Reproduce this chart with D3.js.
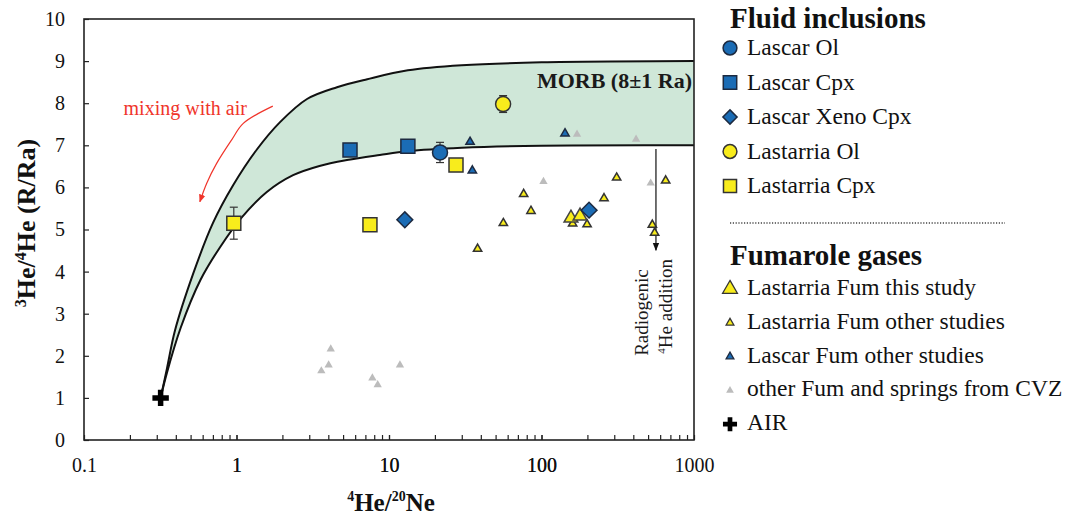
<!DOCTYPE html>
<html>
<head>
<meta charset="utf-8">
<script src="https://cdn.jsdelivr.net/npm/d3@7"></script>
<style>
  body { margin: 0; background: #fff; }
  svg { display: block; font-family: "Liberation Serif", "Times New Roman", serif; }
</style>
</head>
<body>
<svg id="chart" width="1073" height="515"></svg>
<script>
// ---- data ----
const lascarOl = [{ x: 21.6, y: 6.83, err: 0.24 }];
const lascarCpx = [{ x: 5.55, y: 6.89 }, { x: 13.3, y: 6.98 }];
const lascarXenoCpx = [{ x: 12.7, y: 5.23 }, { x: 205, y: 5.46 }];
const lastarriaOl = [{ x: 56, y: 7.98, err: 0.2 }];
const lastarriaCpx = [{ x: 0.96, y: 5.15, err: 0.38 }, { x: 7.5, y: 5.11 }, { x: 27.5, y: 6.53 }];

const lastarriaFumThis = [{ x: 156, y: 5.27 }, { x: 179, y: 5.32 }];
const lastarriaFumOther = [
  { x: 311, y: 6.23 }, { x: 652, y: 6.16 }, { x: 257, y: 5.74 }, { x: 76.4, y: 5.84 },
  { x: 85.3, y: 5.44 }, { x: 56.2, y: 5.15 }, { x: 38.1, y: 4.54 }, { x: 160, y: 5.14 },
  { x: 199, y: 5.12 }, { x: 533, y: 5.11 }, { x: 552, y: 4.92 }
];
const lascarFumOther = [{ x: 34, y: 7.08 }, { x: 35.2, y: 6.4 }, { x: 142.6, y: 7.28 }];
const otherFumCVZ = [
  { x: 171, y: 7.26 }, { x: 417, y: 7.14 }, { x: 103, y: 6.14 }, { x: 520, y: 6.1 },
  { x: 4.15, y: 2.16 }, { x: 4.02, y: 1.78 }, { x: 3.6, y: 1.64 }, { x: 7.78, y: 1.47 },
  { x: 8.43, y: 1.31 }, { x: 11.8, y: 1.78 }
];
const air = [{ x: 0.318, y: 1 }];

// MORB band edges (air - mantle mixing curves for 9 and 7 Ra)
const morbUpper = [
  [0.318, 1.0], [0.35, 1.7], [0.395, 2.6], [0.52, 3.95], [0.7, 5.15], [0.95, 6.05],
  [1.36, 6.9], [1.93, 7.55], [2.9, 8.1], [4.56, 8.38], [7.2, 8.57], [13.3, 8.78],
  [30, 8.9], [100, 8.97], [1000, 9.0]
];
const morbLower = [
  [0.318, 1.0], [0.35, 1.6], [0.43, 2.66], [0.58, 3.8], [0.78, 4.58], [1.09, 5.3],
  [1.58, 5.89], [2.35, 6.29], [3.5, 6.51], [5.3, 6.65], [8.7, 6.77], [13.3, 6.86],
  [30, 6.94], [100, 6.99], [1000, 7.0]
];

const mixArrow = [[1.73, 7.93], [1.108, 7.52], [0.93, 7.13], [0.741, 6.57], [0.638, 6.1], [0.575, 5.66]];
const radioArrow = [[563, 6.91], [563, 4.51]];

const xTickLabels = ["0.1", "1", "10", "100", "1000"];
const yTicks = [0, 1, 2, 3, 4, 5, 6, 7, 8, 9, 10];

const fluidLegend = ["Lascar Ol", "Lascar Cpx", "Lascar Xeno Cpx", "Lastarria Ol", "Lastarria Cpx"];
const fumLegend = ["Lastarria Fum this study", "Lastarria Fum other studies", "Lascar Fum other studies",
  "other Fum and springs from CVZ", "AIR"];

// ---- setup ----
const svg = d3.select("#chart");
const margin = { top: 19, left: 84 };
const plotW = 610, plotH = 421;

const BLUE = "#1b6cb5", YELLOW = "#f8ec1c", GRAY = "#bcbcbc", EDGE = "#1d2a40";

const x = d3.scaleLog().domain([0.1, 1000]).range([margin.left, margin.left + plotW]);
const y = d3.scaleLinear().domain([0, 10]).range([margin.top + plotH, margin.top]);

const defs = svg.append("defs");
function arrowMarker(id, color) {
  defs.append("marker")
    .attr("id", id)
    .attr("viewBox", "0 -5 10 10")
    .attr("refX", 9).attr("refY", 0)
    .attr("markerWidth", 8).attr("markerHeight", 8)
    .attr("markerUnits", "userSpaceOnUse")
    .attr("orient", "auto")
    .append("path")
    .attr("d", "M0,-4L10,0L0,4Z")
    .attr("fill", color);
}
arrowMarker("arrRed", "#f0352b");
arrowMarker("arrBlack", "#111");

// ---- MORB band ----
const line = d3.line()
  .x((d) => x(d[0]))
  .y((d) => y(d[1]))
  .curve(d3.curveCatmullRom.alpha(0.5));

const bandPath = line(morbUpper) + "L" + line(morbLower.slice().reverse()).slice(1) + "Z";
svg.append("path").attr("d", bandPath).attr("fill", "#cfe7d8").attr("stroke", "none");

svg.selectAll("path.curve")
  .data([morbUpper, morbLower])
  .join("path")
  .attr("class", "curve")
  .attr("d", line)
  .attr("fill", "none")
  .attr("stroke", "#111")
  .attr("stroke-width", 2);

// ---- axes ----
const xMinor = [];
[0.1, 1, 10, 100].forEach((dec) => {
  for (let k = 1; k <= 10; k++) xMinor.push(dec * k);
});

const xAxis = d3.axisBottom(x)
  .tickValues(xMinor)
  .tickSize(-5)
  .tickPadding(18)
  .tickFormat((d) => {
    const i = [0.1, 1, 10, 100, 1000].findIndex((v) => Math.abs(v - d) < 1e-9);
    return i >= 0 ? xTickLabels[i] : "";
  });

const gx = svg.append("g")
  .attr("transform", `translate(0,${margin.top + plotH})`)
  .call(xAxis);

const yAxis = d3.axisLeft(y)
  .tickValues(yTicks)
  .tickSize(-5)
  .tickPadding(19)
  .tickFormat(d3.format("d"));

const gy = svg.append("g")
  .attr("transform", `translate(${margin.left},0)`)
  .call(yAxis);

[gx, gy].forEach((g) => {
  g.select(".domain").remove();
  g.selectAll(".tick line").attr("stroke", "#222").attr("stroke-width", 1.2);
  g.selectAll(".tick text")
    .attr("fill", "#111")
    .attr("font-size", 20)
    .attr("font-family", "Liberation Serif, serif");
});

svg.append("rect")
  .attr("x", margin.left).attr("y", margin.top)
  .attr("width", plotW).attr("height", plotH)
  .attr("fill", "none")
  .attr("stroke", "#222")
  .attr("stroke-width", 1.6);

// axis titles
const xTitle = svg.append("text")
  .attr("x", x(10) + 2)
  .attr("y", 511)
  .attr("text-anchor", "middle")
  .attr("font-weight", "bold")
  .attr("font-size", 25)
  .attr("fill", "#111");
xTitle.append("tspan").attr("font-size", 14).attr("dy", -10).text("4");
xTitle.append("tspan").attr("dy", 10).text("He/");
xTitle.append("tspan").attr("font-size", 14).attr("dy", -10).text("20");
xTitle.append("tspan").attr("dy", 10).text("Ne");

const yTitle = svg.append("text")
  .attr("transform", `translate(35,${margin.top + 204}) rotate(-90)`)
  .attr("text-anchor", "middle")
  .attr("font-weight", "bold")
  .attr("font-size", 26)
  .attr("fill", "#111");
yTitle.append("tspan").attr("font-size", 16).attr("dy", -9).text("3");
yTitle.append("tspan").attr("dy", 9).text("He/");
yTitle.append("tspan").attr("font-size", 16).attr("dy", -9).text("4");
yTitle.append("tspan").attr("dy", 9).text("He (R/Ra)");

// ---- annotations ----
svg.append("text")
  .attr("x", x(970)).attr("y", y(8.36))
  .attr("text-anchor", "end")
  .attr("font-weight", "bold")
  .attr("font-size", 22)
  .attr("fill", "#1a1a1a")
  .text("MORB (8\u00B11 Ra)");

svg.append("text")
  .attr("x", x(1.17)).attr("y", y(7.72))
  .attr("text-anchor", "end")
  .attr("font-size", 20)
  .attr("fill", "#f0352b")
  .text("mixing with air");

svg.append("path")
  .attr("d", d3.line().x((d) => x(d[0])).y((d) => y(d[1])).curve(d3.curveCatmullRom)(mixArrow))
  .attr("fill", "none")
  .attr("stroke", "#f0352b")
  .attr("stroke-width", 1.2)
  .attr("marker-end", "url(#arrRed)");

svg.append("path")
  .attr("d", d3.line().x((d) => x(d[0])).y((d) => y(d[1]))(radioArrow))
  .attr("fill", "none")
  .attr("stroke", "#111")
  .attr("stroke-width", 1.2)
  .attr("marker-end", "url(#arrBlack)");

svg.append("text")
  .attr("transform", `translate(${x(499)},${y(2.0)}) rotate(-90)`)
  .attr("font-size", 19)
  .attr("fill", "#1a1a1a")
  .text("Radiogenic");

const he4 = svg.append("text")
  .attr("transform", `translate(${x(718)},${y(2.05)}) rotate(-90)`)
  .attr("font-size", 19)
  .attr("fill", "#1a1a1a");
he4.append("tspan").attr("font-size", 11).attr("dy", -7).text("4");
he4.append("tspan").attr("dy", 7).text("He addition");

// ---- error bars ----
const withErr = [...lascarOl, ...lastarriaOl, ...lastarriaCpx].filter((d) => d.err);
const eb = svg.append("g").attr("stroke", "#333").attr("stroke-width", 1.2);
withErr.forEach((d) => {
  eb.append("line").attr("x1", x(d.x)).attr("x2", x(d.x)).attr("y1", y(d.y - d.err)).attr("y2", y(d.y + d.err));
  [d.y - d.err, d.y + d.err].forEach((v) => {
    eb.append("line").attr("x1", x(d.x) - 4).attr("x2", x(d.x) + 4).attr("y1", y(v)).attr("y2", y(v));
  });
});

// ---- markers ----
const sym = {
  circle: d3.symbol().type(d3.symbolCircle).size(177),
  square: d3.symbol().type(d3.symbolSquare).size(196),
  diamond: d3.symbol().type(d3.symbolSquare).size(125),
  triBig: d3.symbol().type(d3.symbolTriangle).size(82),
  triSmall: d3.symbol().type(d3.symbolTriangle).size(30),
  cross: d3.symbol().type(d3.symbolCross).size(150)
};

const series = [
  { data: otherFumCVZ, shape: "triSmall", fill: GRAY, stroke: "none" },
  { data: lascarFumOther, shape: "triSmall", fill: BLUE, stroke: EDGE },
  { data: lastarriaFumOther, shape: "triSmall", fill: YELLOW, stroke: "#333" },
  { data: lastarriaFumThis, shape: "triBig", fill: YELLOW, stroke: "#444" },
  { data: lascarXenoCpx, shape: "diamond", fill: BLUE, stroke: EDGE },
  { data: lascarCpx, shape: "square", fill: BLUE, stroke: EDGE },
  { data: lastarriaCpx, shape: "square", fill: YELLOW, stroke: "#333" },
  { data: lascarOl, shape: "circle", fill: BLUE, stroke: EDGE },
  { data: lastarriaOl, shape: "circle", fill: YELLOW, stroke: "#333" },
  { data: air, shape: "cross", fill: "#000", stroke: "none" }
];

series.forEach((s) => {
  svg.append("g")
    .selectAll("path")
    .data(s.data)
    .join("path")
    .attr("d", sym[s.shape])
    .attr("transform", (d) => `translate(${x(d.x)},${y(d.y)})` + (s.shape === "diamond" ? " rotate(45)" : ""))
    .attr("fill", s.fill)
    .attr("stroke", s.stroke)
    .attr("stroke-width", 1.5);
});

// ---- legend ----
const lg = svg.append("g");
lg.append("text").attr("x", 730).attr("y", 28)
  .attr("font-size", 29).attr("font-weight", "bold").attr("fill", "#111")
  .text("Fluid inclusions");

const fluidSym = [
  { shape: d3.symbol().type(d3.symbolCircle).size(150), fill: BLUE, stroke: EDGE },
  { shape: d3.symbol().type(d3.symbolSquare).size(180), fill: BLUE, stroke: EDGE },
  { shape: d3.symbol().type(d3.symbolSquare).size(100), fill: BLUE, stroke: EDGE, rot: 45 },
  { shape: d3.symbol().type(d3.symbolCircle).size(150), fill: YELLOW, stroke: "#333" },
  { shape: d3.symbol().type(d3.symbolSquare).size(170), fill: YELLOW, stroke: "#333" }
];

fluidLegend.forEach((name, i) => {
  const by = 55 + i * 34.5;
  const s = fluidSym[i];
  lg.append("path").attr("d", s.shape)
    .attr("transform", `translate(730,${by - 7})` + (s.rot ? ` rotate(${s.rot})` : ""))
    .attr("fill", s.fill).attr("stroke", s.stroke).attr("stroke-width", 1.5);
  lg.append("text").attr("x", 747).attr("y", by)
    .attr("font-size", 23.5).attr("fill", "#111").text(name);
});

lg.append("line")
  .attr("x1", 730).attr("x2", 1005).attr("y1", 223).attr("y2", 223)
  .attr("stroke", "#444").attr("stroke-width", 1.5).attr("stroke-dasharray", "1.2,1.6");

lg.append("text").attr("x", 730).attr("y", 265)
  .attr("font-size", 29).attr("font-weight", "bold").attr("fill", "#111")
  .text("Fumarole gases");

const fumSym = [
  { shape: d3.symbol().type(d3.symbolTriangle).size(95), fill: YELLOW, stroke: "#333", dy: -6 },
  { shape: d3.symbol().type(d3.symbolTriangle).size(26), fill: YELLOW, stroke: "#333", dy: -6 },
  { shape: d3.symbol().type(d3.symbolTriangle).size(26), fill: BLUE, stroke: EDGE, dy: -6 },
  { shape: d3.symbol().type(d3.symbolTriangle).size(26), fill: GRAY, stroke: "none", dy: -6 },
  { shape: d3.symbol().type(d3.symbolCross).size(110), fill: "#000", stroke: "none", dy: -6 }
];

fumLegend.forEach((name, i) => {
  const by = 295 + i * 33.8;
  const s = fumSym[i];
  lg.append("path").attr("d", s.shape)
    .attr("transform", `translate(730,${by + s.dy})`)
    .attr("fill", s.fill).attr("stroke", s.stroke).attr("stroke-width", 1.3);
  lg.append("text").attr("x", 747).attr("y", by)
    .attr("font-size", 23.5).attr("fill", "#111").text(name);
});
</script>
</body>
</html>
